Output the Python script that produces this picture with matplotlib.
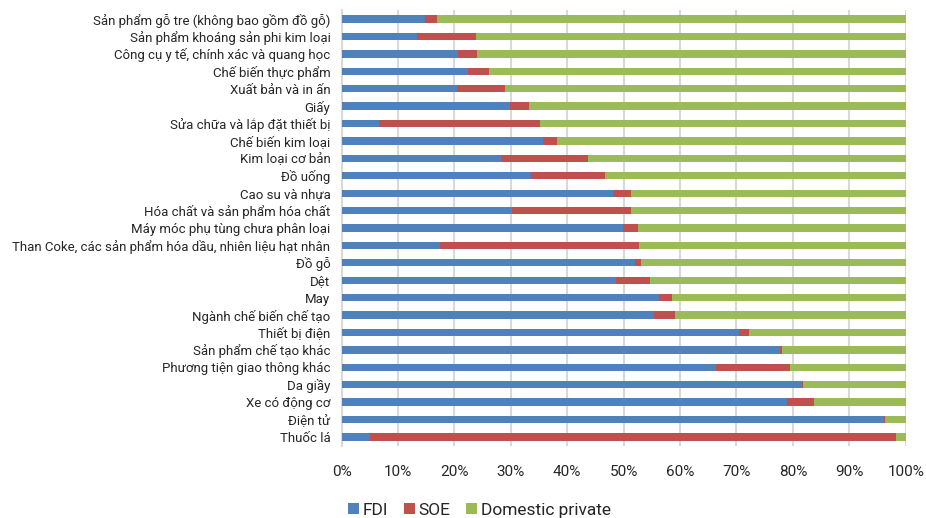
import numpy as np
import matplotlib
matplotlib.use('Agg')
import matplotlib.pyplot as plt
from matplotlib.ticker import PercentFormatter

plt.rcParams['font.family'] = ['Roboto', 'DejaVu Sans']

categories = [
    'Sản phẩm gỗ tre (không bao gồm đồ gỗ)',
    'Sản phẩm khoáng sản phi kim loại',
    'Công cụ y tế, chính xác và quang học',
    'Chế biến thực phẩm',
    'Xuất bản và in ấn',
    'Giấy',
    'Sửa chữa và lắp đặt thiết bị',
    'Chế biến kim loại',
    'Kim loại cơ bản',
    'Đồ uống',
    'Cao su và nhựa',
    'Hóa chất và sản phẩm hóa chất',
    'Máy móc phụ tùng chưa phân loại',
    'Than Coke, các sản phẩm hóa dầu, nhiên liệu hạt nhân',
    'Đồ gỗ',
    'Dệt',
    'May',
    'Ngành chế biến chế tạo',
    'Thiết bị điện',
    'Sản phẩm chế tạo khác',
    'Phương tiện giao thông khác',
    'Da giầy',
    'Xe có động cơ',
    'Điện tử',
    'Thuốc lá',
]

# shares in percent
fdi = [14.8, 13.3, 20.6, 22.5, 20.4, 29.9, 6.7, 35.8, 28.2, 33.5, 48.2, 30.3, 49.9,
       17.4, 52.1, 48.7, 56.3, 55.4, 70.5, 77.8, 66.4, 81.6, 79.0, 96.2, 5.1]
soe = [2.1, 10.5, 3.4, 3.6, 8.6, 3.3, 28.5, 2.4, 15.4, 13.2, 3.1, 21.0, 2.6,
       35.3, 1.0, 6.0, 2.3, 3.7, 1.7, 0.2, 13.1, 0.2, 4.7, 0.1, 93.2]
private = [83.1, 76.2, 76.0, 73.9, 71.0, 66.8, 64.8, 61.8, 56.4, 53.3, 48.7, 48.7, 47.5,
           47.3, 46.9, 45.3, 41.4, 40.9, 27.8, 22.0, 20.5, 18.2, 16.3, 3.7, 1.7]

series = [('FDI', fdi, '#4F81BD'), ('SOE', soe, '#C0504D'),
          ('Domestic private', private, '#9BBB59')]

fig = plt.figure(figsize=(9.26, 5.18), dpi=100)
ax = fig.add_axes([0.3688, 0.1396, 0.6093, 0.8405])

y = np.arange(len(categories))
left = np.zeros(len(categories))
for name, vals, color in series:
    vals = np.array(vals)
    ax.barh(y, vals, left=left, height=0.42, color=color, label=name, zorder=3)
    left += vals

ax.set_xlim(0, 100)
ax.set_ylim(len(categories) - 0.5, -0.5)
ax.set_xticks(np.arange(0, 101, 10))
ax.xaxis.set_major_formatter(PercentFormatter(decimals=0))
ax.set_yticks(y)
ax.set_yticklabels(categories)

ax.grid(axis='x', color='#D9D9D9', linewidth=1.5, zorder=0)
for s in ['top', 'right', 'bottom']:
    ax.spines[s].set_visible(False)
ax.spines['left'].set_color('#D9D9D9')
ax.spines['left'].set_linewidth(1.5)
ax.tick_params(axis='both', length=0, colors='#262626')
ax.tick_params(axis='y', labelsize=9.5, pad=8)
ax.tick_params(axis='x', labelsize=11, pad=14)

fig.legend(loc='lower center', bbox_to_anchor=(0.518, -0.03), ncol=3, frameon=False,
           fontsize=12.5, handlelength=0.6, handleheight=0.6, handletextpad=0.25,
           columnspacing=0.9, labelcolor='#262626')

fig.savefig('out.png', dpi=100)
